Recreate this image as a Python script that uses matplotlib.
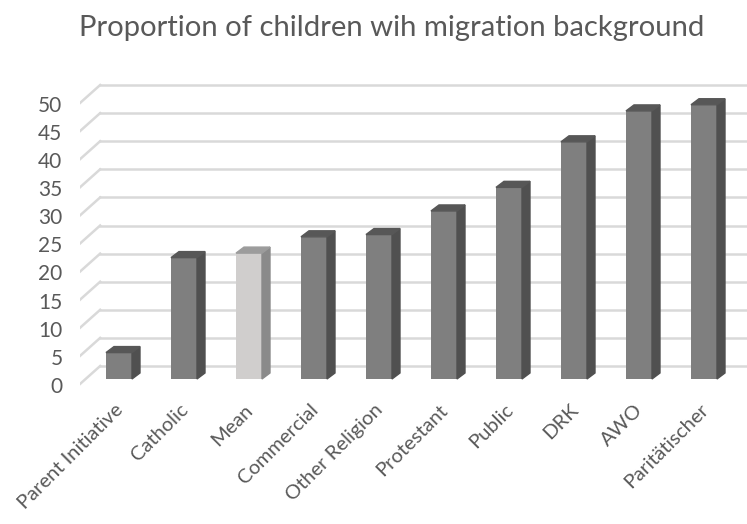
import matplotlib.pyplot as plt
from matplotlib.patches import Polygon

# data
categories = ["Parent Initiative", "Catholic", "Mean", "Commercial", "Other Religion",
              "Protestant", "Public", "DRK", "AWO", "Paritätischer"]
values = [4.7, 21.6, 22.4, 25.3, 25.7, 29.9, 34.1, 42.2, 47.7, 48.8]
y_ticks = list(range(0, 55, 5))
title = "Proportion of children wih migration background"

# pseudo-3d geometry (data units)
BAR_W = 0.4
DEPTH_X, DEPTH_Y = 0.123, 1.07     # bar depth
WALL_X, WALL_Y = 0.23, 2.31        # back wall offset from bar front
FRONT_X, FRONT_Y = -0.08, -0.89    # front plane offset from bar front
TXT = "#595959"
GRID = "#d9d9d9"

plt.rcParams['font.family'] = ['Lato', 'DejaVu Sans']

W, H = 747, 524
fig = plt.figure(figsize=(W / 100, H / 100), dpi=100)
ax_l, ax_r, ax_t, ax_b = 80, 747, 70, 400
ax = fig.add_axes([ax_l / W, 1 - ax_b / H, (ax_r - ax_l) / W, (ax_b - ax_t) / H])
px_x, px_y = 65.0, 5.62
x0_px, y0_px = 119, 379
ax.set_xlim((ax_l - x0_px) / px_x, (ax_r - x0_px) / px_x)
ax.set_ylim(-(ax_b - y0_px) / px_y, (y0_px - ax_t) / px_y)
ax.axis("off")

xmin, xmax = ax.get_xlim()
left_front = xmin
left_back = left_front + (WALL_X - FRONT_X)
for v in y_ticks:
    ax.plot([left_back, xmax], [v + WALL_Y, v + WALL_Y], color=GRID, lw=1.8, zorder=1)
    ax.plot([left_front, left_back], [v + FRONT_Y, v + WALL_Y], color=GRID, lw=1.8, zorder=1)
    ax.text(left_front - 0.27, v + FRONT_Y - 0.5, str(v), ha="right", va="center",
            fontsize=15, color=TXT, clip_on=False)

for i, (cat, v) in enumerate(zip(categories, values)):
    if cat == "Mean":
        front, side, top = "#d0cecd", "#8a8a8a", "#9c9c9c"
    else:
        front, side, top = "#7f7f7f", "#505050", "#575757"
    ax.bar(i, v, width=BAR_W, color=front, zorder=3)
    r = i + BAR_W / 2
    l = i - BAR_W / 2
    ax.add_patch(Polygon([(r, 0), (r + DEPTH_X, DEPTH_Y), (r + DEPTH_X, v + DEPTH_Y), (r, v)],
                         closed=True, color=side, zorder=3))
    ax.add_patch(Polygon([(l, v), (r, v), (r + DEPTH_X, v + DEPTH_Y), (l + DEPTH_X, v + DEPTH_Y)],
                         closed=True, color=top, zorder=3))
    ax.text(i + 0.02, -5.0, cat, rotation=45, rotation_mode="anchor", ha="right", va="center",
            fontsize=14.5, color=TXT, clip_on=False)

fig.text(392 / W, 1 - 28 / H, title, ha="center", va="center", fontsize=21.1, color=TXT)

fig.savefig("out.png", dpi=100)
